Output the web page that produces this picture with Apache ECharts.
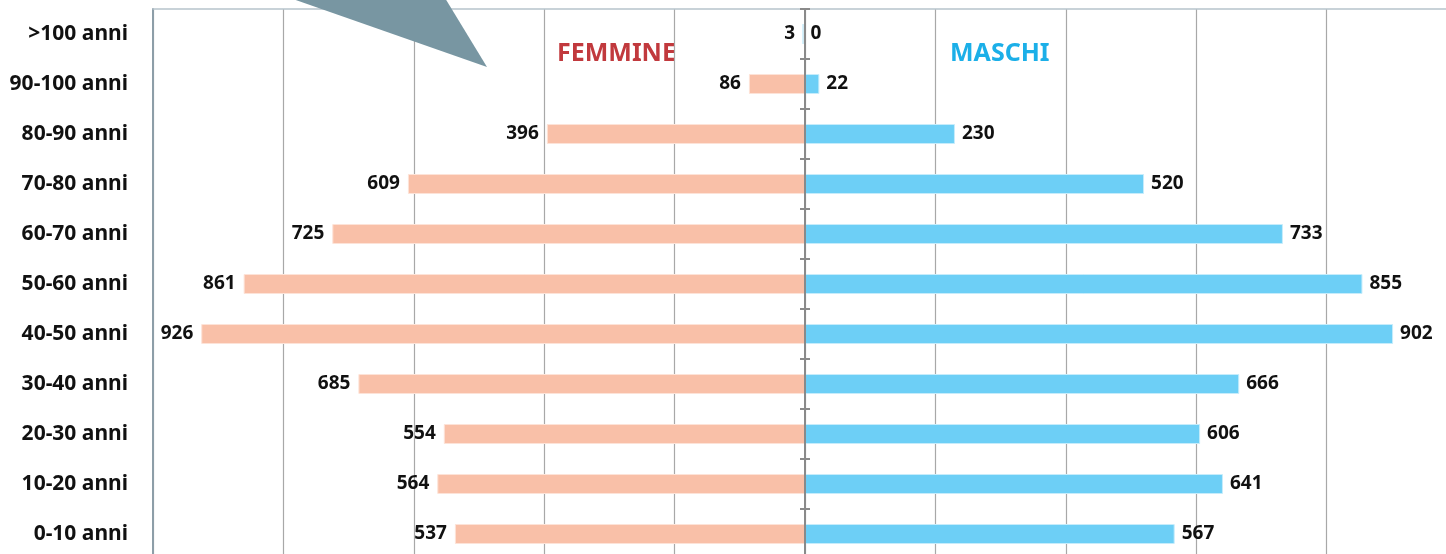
<!DOCTYPE html>
<html>
<head>
<meta charset="utf-8">
<script src="https://cdn.jsdelivr.net/npm/echarts@6/dist/echarts.min.js"></script>
<style>
  html, body { margin: 0; padding: 0; background: #fff; overflow: hidden; }
  #chart { width: 1460px; height: 562px; }
</style>
</head>
<body>
<div id="chart"></div>
<script>
// age classes, bottom to top
const categories = ['0-10 anni', '10-20 anni', '20-30 anni', '30-40 anni', '40-50 anni',
  '50-60 anni', '60-70 anni', '70-80 anni', '80-90 anni', '90-100 anni', '>100 anni']
const femmine = [537, 564, 554, 685, 926, 861, 725, 609, 396, 86, 3]
const maschi = [567, 641, 606, 666, 902, 855, 733, 520, 230, 22, 0]

const font = 'Noto Sans'
const gridBox = { left: 153, width: 1304, top: 9, height: 550, containLabel: false }
const chart = echarts.init(document.getElementById('chart'))

chart.setOption({
  animation: false,
  // second grid only carries the right-hand half of the centre ticks
  grid: [gridBox, Object.assign({}, gridBox)],
  xAxis: [
    {
      type: 'value',
      gridIndex: 0,
      position: 'top',
      min: -1000,
      max: 1000,
      interval: 200,
      axisLine: { show: true, lineStyle: { color: '#b7c3cb', width: 1.5 } },
      axisTick: { show: false },
      axisLabel: { show: false },
      splitLine: { lineStyle: { color: '#a8a8a8', width: 1.2 } }
    },
    {
      type: 'value',
      gridIndex: 1,
      min: -1000,
      max: 1000,
      interval: 200,
      show: false
    }
  ],
  yAxis: [
    {
      type: 'category',
      gridIndex: 0,
      data: categories,
      position: 'left',
      axisLine: { onZero: false, lineStyle: { color: '#8d9ea8', width: 2 } },
      axisTick: { show: false },
      axisLabel: { margin: 25, color: '#111', fontFamily: font, fontWeight: 'bold', fontSize: 21 }
    },
    {
      type: 'category',
      gridIndex: 0,
      data: categories,
      position: 'left',
      axisLine: { onZero: true, lineStyle: { color: '#8a8a8a', width: 2 } },
      axisTick: { show: true, length: 5, inside: false, lineStyle: { color: '#8a8a8a', width: 2 } },
      axisLabel: { show: false },
      z: 5
    },
    {
      type: 'category',
      gridIndex: 1,
      data: categories,
      position: 'left',
      axisLine: { onZero: true, lineStyle: { color: '#8a8a8a', width: 2 } },
      axisTick: { show: true, length: 5, inside: true, lineStyle: { color: '#8a8a8a', width: 2 } },
      axisLabel: { show: false },
      z: 5
    }
  ],
  series: [
    {
      name: 'FEMMINE',
      type: 'bar',
      xAxisIndex: 0,
      yAxisIndex: 0,
      stack: 'pop',
      barWidth: 20,
      data: femmine.map(v => -v),
      itemStyle: { color: '#f9c0a8', borderColor: '#fde3d8', borderWidth: 1 },
      label: {
        show: true,
        position: 'left',
        distance: 8,
        color: '#111',
        fontFamily: font,
        fontWeight: 'bold',
        fontSize: 19,
        formatter: p => Math.abs(p.value)
      }
    },
    {
      name: 'MASCHI',
      type: 'bar',
      xAxisIndex: 0,
      yAxisIndex: 0,
      stack: 'pop',
      barWidth: 20,
      data: maschi,
      itemStyle: { color: '#6dcff6', borderColor: '#c6ecfb', borderWidth: 1 },
      label: {
        show: true,
        position: 'right',
        distance: 7,
        color: '#111',
        fontFamily: font,
        fontWeight: 'bold',
        fontSize: 19
      }
    }
  ],
  graphic: [
    {
      type: 'polygon',
      shape: { points: [[290, -2], [445, -2], [487, 67]] },
      style: { fill: '#7896a2' },
      z: 100
    },
    {
      type: 'text',
      left: 557,
      top: 41,
      style: { text: 'FEMMINE', fill: '#c1393d', font: 'bold 25px "Noto Sans"' }
    },
    {
      type: 'text',
      left: 950,
      top: 41,
      style: { text: 'MASCHI', fill: '#1bafe8', font: 'bold 25px "Noto Sans"' }
    }
  ]
})
</script>
</body>
</html>
